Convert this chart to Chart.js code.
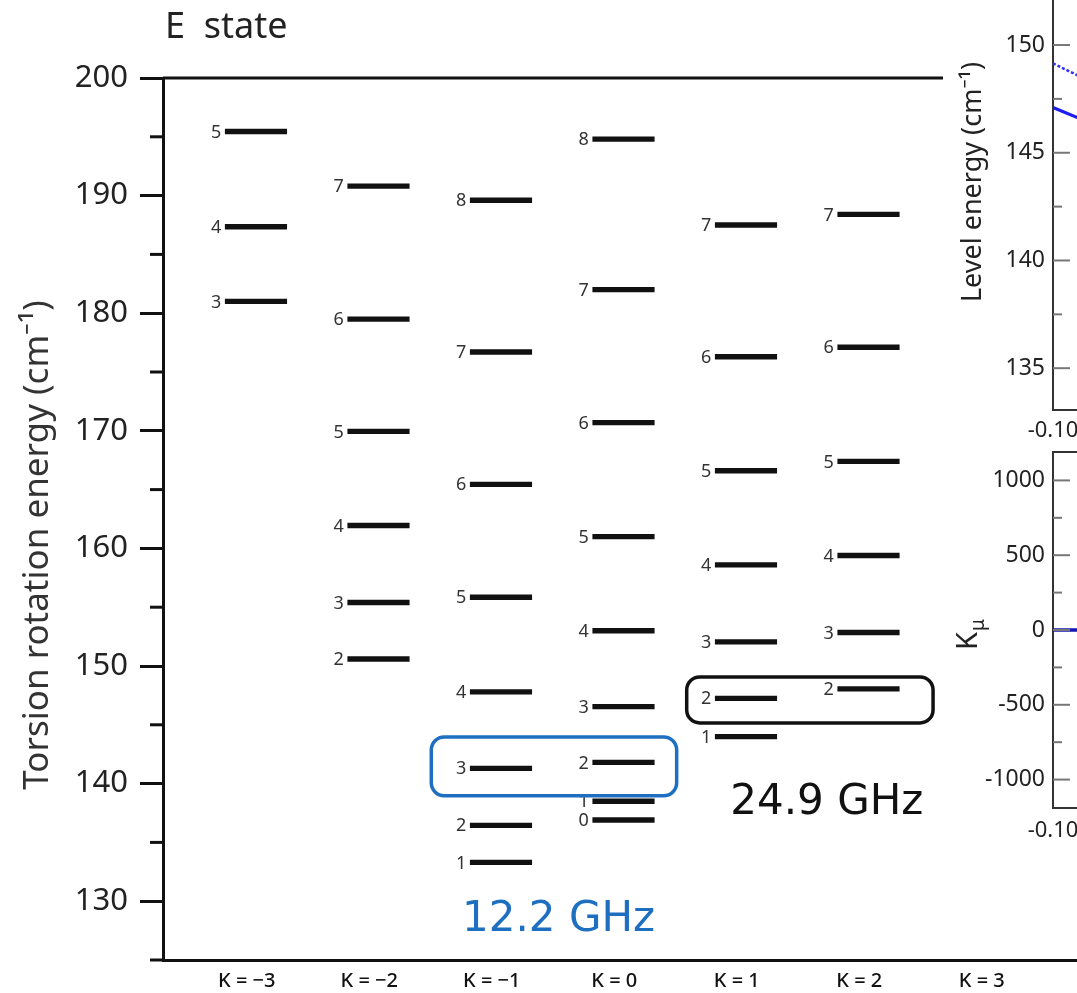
<!DOCTYPE html>
<html>
<head>
<meta charset="utf-8">
<script src="https://cdn.jsdelivr.net/npm/chart.js@4/dist/chart.umd.min.js"></script>
<style>
  html, body { margin: 0; padding: 0; background: #fff; overflow: hidden; }
  canvas { position: absolute; display: block; }
  #main { left: 0; top: 0; }
  .inset { background: #fff; }
</style>
</head>
<body>
<canvas id="main" width="1077" height="993"></canvas>
<canvas id="insetTop" class="inset" width="500" height="445" style="left:943px;top:0px"></canvas>
<canvas id="insetBottom" class="inset" width="500" height="405" style="left:943px;top:440px"></canvas>
<script>
const kValues = [-3, -2, -1, 0, 1, 2, 3];
const kLabels = ['K = −3', 'K = −2', 'K = −1', 'K = 0', 'K = 1', 'K = 2', 'K = 3'];
const yTicks = [130, 140, 150, 160, 170, 180, 190, 200];
const yMinorTicks = [125, 135, 145, 155, 165, 175, 185, 195];

// J label and energy (cm-1) of each level, one pair of arrays per K column
const jKm3 = [3, 4, 5];
const eKm3 = [181.0, 187.35, 195.45];
const jKm2 = [2, 3, 4, 5, 6, 7];
const eKm2 = [150.6, 155.4, 161.95, 169.95, 179.5, 190.8];
const jKm1 = [1, 2, 3, 4, 5, 6, 7, 8];
const eKm1 = [133.3, 136.45, 141.3, 147.8, 155.85, 165.45, 176.7, 189.6];
const jK0 = [0, 1, 2, 3, 4, 5, 6, 7, 8];
const eK0 = [136.9, 138.5, 141.8, 146.55, 153.0, 161.0, 170.7, 182.0, 194.8];
const jK1 = [1, 2, 3, 4, 5, 6, 7];
const eK1 = [144.0, 147.25, 152.05, 158.6, 166.6, 176.3, 187.5];
const jK2 = [2, 3, 4, 5, 6, 7];
const eK2 = [148.05, 152.85, 159.4, 167.4, 177.1, 188.4];

// right-hand insets (only their left edge is in the picture)
const insetX = [-0.10, -0.08];
const levelDotted = [149.15, 148.26];
const levelSolid = [147.1, 146.35];
const kMu = [0, 0];
const insetXTicks = [-0.10, -0.05, 0, 0.05, 0.10];
const insetTopTicks = [135, 140, 145, 150];
const insetTopMinor = [137.5, 142.5, 147.5];
const insetBotTicks = [-1000, -500, 0, 500, 1000];
const insetBotMinor = [-750, -250, 250, 750];

const columns = [
  { k: -3, j: jKm3, e: eKm3 },
  { k: -2, j: jKm2, e: eKm2 },
  { k: -1, j: jKm1, e: eKm1 },
  { k: 0, j: jK0, e: eK0 },
  { k: 1, j: jK1, e: eK1 },
  { k: 2, j: jK2, e: eK2 }
];
const levels = [];
columns.forEach(c => c.e.forEach((e, i) => levels.push({ k: c.k, j: c.j[i], e: e })));

const HALF = 0.2;       // half thickness of a level mark, cm-1
const BAR_PX = 61.5;    // level mark width
const LABEL_SHIFT = -0.075;
const FONT = '"Noto Sans", "Open Sans", sans-serif';
const HAND = '"DejaVu Sans", sans-serif';

// frequency boxes and notes, in axis units
const boxes = [
  { k0: -1.569, k1: 0.434, e0: 138.96, e1: 143.97, color: '#1f6fc1' },
  { k0: 0.516, k1: 2.527, e0: 145.16, e1: 149.07, color: '#111' }
];
const notes = [
  { text: '12.2 GHz', k: -0.53, e: 128.4, color: '#1f6fc1' },
  { text: '24.9 GHz', k: 1.66, e: 138.3, color: '#111' }
];

Chart.defaults.font.family = FONT;

function line(ctx, x0, y0, x1, y1) {
  ctx.beginPath();
  ctx.moveTo(x0, y0);
  ctx.lineTo(x1, y1);
  ctx.stroke();
}

const decor = {
  id: 'decor',
  afterDatasetsDraw(chart) {
    const { ctx, chartArea: a, scales: { x, y } } = chart;
    ctx.save();
    ctx.strokeStyle = '#111';
    ctx.lineWidth = 3;
    yMinorTicks.forEach(v => {
      const py = y.getPixelForValue(v);
      line(ctx, a.left - 13, py, a.left, py);
    });
    line(ctx, a.left, a.top, a.right, a.top);

    // J numbers left of each level
    ctx.fillStyle = '#333';
    ctx.font = '18px ' + FONT;
    ctx.textAlign = 'right';
    ctx.textBaseline = 'middle';
    levels.forEach(l => {
      ctx.fillText(String(l.j), x.getPixelForValue(l.k) - BAR_PX / 2 - 4, y.getPixelForValue(l.e) + 1);
    });

    boxes.forEach(b => {
      const x0 = x.getPixelForValue(b.k0), x1 = x.getPixelForValue(b.k1);
      const y0 = y.getPixelForValue(b.e1), y1 = y.getPixelForValue(b.e0);
      ctx.strokeStyle = b.color;
      ctx.lineWidth = 3.5;
      ctx.beginPath();
      ctx.roundRect(x0, y0, x1 - x0, y1 - y0, 13);
      ctx.stroke();
    });

    ctx.textAlign = 'center';
    ctx.font = '42px ' + HAND;
    notes.forEach(n => {
      ctx.fillStyle = n.color;
      ctx.fillText(n.text, x.getPixelForValue(n.k), y.getPixelForValue(n.e));
    });

    // title and axis title
    ctx.fillStyle = '#222';
    ctx.textAlign = 'left';
    ctx.font = '36px ' + FONT;
    ctx.fillText('E  state', 165, 28);

    ctx.translate(38, 545);
    ctx.rotate(-Math.PI / 2);
    ctx.textAlign = 'center';
    ctx.fillStyle = '#333';
    ctx.font = '35px ' + FONT;
    ctx.fillText('Torsion rotation energy (cm⁻¹)', 0, 0);
    ctx.restore();
  }
};

new Chart(document.getElementById('main'), {
  type: 'bar',
  data: {
    datasets: [{
      data: levels.map(l => ({ x: l.k, y: [l.e - HALF, l.e + HALF] })),
      backgroundColor: '#111',
      borderWidth: 0,
      barThickness: BAR_PX
    }]
  },
  options: {
    responsive: false,
    animation: false,
    layout: { padding: { top: 78, left: 0, right: 0, bottom: 0 } },
    plugins: { legend: { display: false }, tooltip: { enabled: false } },
    scales: {
      x: {
        type: 'linear',
        min: -3.759,
        max: 3.702,
        offset: false,
        afterBuildTicks: s => { s.ticks = kValues.map(k => ({ value: k + LABEL_SHIFT })); },
        afterFit: s => { s.height = 33; s.paddingLeft = 0; s.paddingRight = 0; },
        ticks: {
          callback: (v, i) => kLabels[i],
          autoSkip: false,
          maxRotation: 0,
          font: { size: 20, weight: '500' },
          color: '#111',
          padding: 9
        },
        grid: { display: false, drawTicks: false },
        border: { display: true, color: '#111', width: 3 }
      },
      y: {
        min: 125,
        max: 200,
        beginAtZero: false,
        afterBuildTicks: s => { s.ticks = yTicks.map(v => ({ value: v })); },
        afterFit: s => { s.width = 163; s.paddingTop = 0; s.paddingBottom = 0; },
        ticks: { font: { size: 31 }, color: '#222', padding: 12 },
        grid: { drawOnChartArea: false, tickLength: 23, tickWidth: 3, tickColor: '#111' },
        border: { display: true, color: '#111', width: 3 }
      }
    }
  },
  plugins: [decor]
});

function insetDecor(major, minor, topBorder, drawTitle) {
  return {
    id: 'insetDecor',
    afterDraw(chart) {
      const { ctx, chartArea: a, scales: { y } } = chart;
      ctx.save();
      ctx.strokeStyle = '#777';
      ctx.lineWidth = 2;
      major.forEach(v => { const py = y.getPixelForValue(v); line(ctx, a.left, py, a.left + 17, py); });
      minor.forEach(v => { const py = y.getPixelForValue(v); line(ctx, a.left, py, a.left + 9, py); });
      if (topBorder) {
        ctx.strokeStyle = '#333';
        line(ctx, a.left, a.top, a.right, a.top);
      }
      ctx.fillStyle = '#222';
      drawTitle(ctx);
      ctx.restore();
    }
  };
}

function insetScales(yMin, yMax, yTickList, xHeight, xPad) {
  return {
    x: {
      type: 'linear',
      min: -0.10,
      max: 0.10,
      afterBuildTicks: s => { s.ticks = insetXTicks.map(v => ({ value: v })); },
      afterFit: s => { s.height = xHeight; s.paddingLeft = 0; s.paddingRight = 0; },
      ticks: { callback: v => v.toFixed(2), font: { size: 22 }, color: '#222', padding: xPad, maxRotation: 0, autoSkip: false },
      grid: { display: false, drawTicks: false },
      border: { display: true, color: '#333', width: 2 }
    },
    y: {
      min: yMin,
      max: yMax,
      afterBuildTicks: s => { s.ticks = yTickList.map(v => ({ value: v })); },
      afterFit: s => { s.width = 110; s.paddingTop = 0; s.paddingBottom = 0; },
      ticks: { callback: v => String(v), font: { size: 23 }, color: '#222', padding: 8 },
      grid: { display: false, drawTicks: false },
      border: { display: true, color: '#333', width: 2 }
    }
  };
}

new Chart(document.getElementById('insetTop'), {
  type: 'line',
  data: {
    datasets: [
      { data: insetX.map((x, i) => ({ x, y: levelDotted[i] })), borderColor: '#2f2fff', borderWidth: 2.5, borderDash: [3, 2], pointRadius: 0 },
      { data: insetX.map((x, i) => ({ x, y: levelSolid[i] })), borderColor: '#1c1cf2', borderWidth: 3, pointRadius: 0 }
    ]
  },
  options: {
    responsive: false,
    animation: false,
    layout: { padding: 0 },
    plugins: { legend: { display: false }, tooltip: { enabled: false } },
    scales: insetScales(133.06, 152.09, insetTopTicks, 35, 8)
  },
  plugins: [insetDecor(insetTopTicks, insetTopMinor, false, ctx => {
    ctx.translate(30, 182);
    ctx.rotate(-Math.PI / 2);
    ctx.textAlign = 'center';
    ctx.textBaseline = 'middle';
    ctx.font = '27px ' + FONT;
    ctx.fillText('Level energy (cm⁻¹)', 0, 0);
  })]
});

new Chart(document.getElementById('insetBottom'), {
  type: 'line',
  data: {
    datasets: [
      { data: insetX.map((x, i) => ({ x, y: kMu[i] })), borderColor: '#1414b4', borderWidth: 3.5, pointRadius: 0 }
    ]
  },
  options: {
    responsive: false,
    animation: false,
    layout: { padding: { top: 12, left: 0, right: 0, bottom: 0 } },
    plugins: { legend: { display: false }, tooltip: { enabled: false } },
    scales: insetScales(-1190, 1190, insetBotTicks, 37, 10)
  },
  plugins: [insetDecor(insetBotTicks, insetBotMinor, true, ctx => {
    ctx.translate(34, 210);
    ctx.rotate(-Math.PI / 2);
    ctx.textAlign = 'left';
    ctx.textBaseline = 'alphabetic';
    ctx.font = '29px ' + FONT;
    ctx.fillText('K', 0, 0);
    const w = ctx.measureText('K').width;
    ctx.font = '19px ' + FONT;
    ctx.fillText('μ', w + 1, 7);
  })]
});
</script>
</body>
</html>
